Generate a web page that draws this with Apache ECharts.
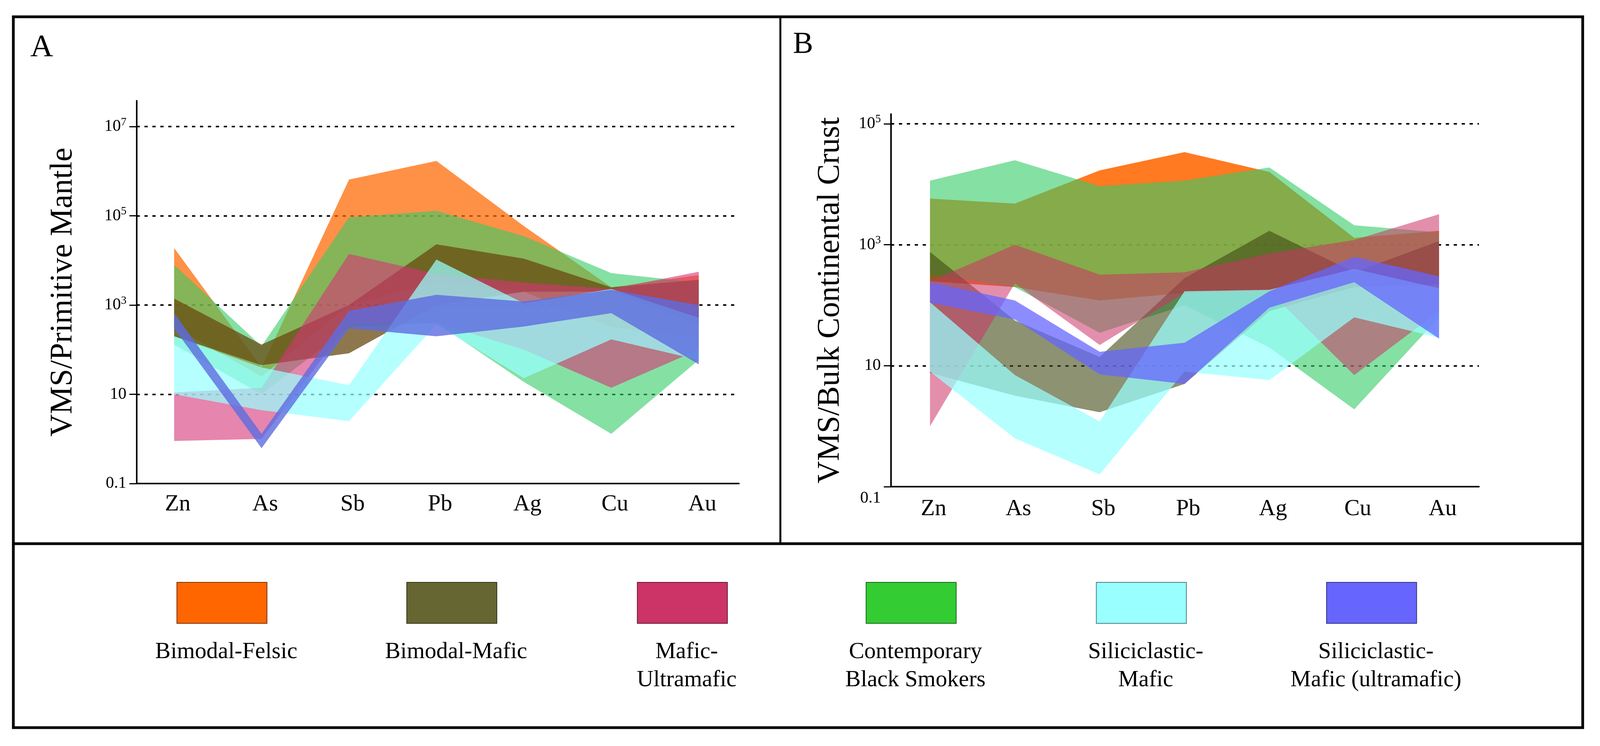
<!DOCTYPE html>
<html>
<head>
<meta charset="utf-8">
<script src="https://cdn.jsdelivr.net/npm/echarts@6/dist/echarts.min.js"></script>
<style>
  html, body { margin: 0; padding: 0; background: #fff; overflow: hidden; }
  #chart { width: 100vw; height: 100vh; }
</style>
</head>
<body>
<div id="chart"></div>
<script>
var elements = ['Zn', 'As', 'Sb', 'Pb', 'Ag', 'Cu', 'Au'];
var yTicksA = [0.1, 10, 1e3, 1e5, 1e7];
var yTicksB = [0.1, 10, 1e3, 1e5];
var gridA = [10, 1e3, 1e5, 1e7];
var gridB = [10, 1e3, 1e5];

var legendNames = ['Bimodal-Felsic', 'Bimodal-Mafic', 'Mafic-\nUltramafic',
  'Contemporary\nBlack Smokers', 'Siliciclastic-\nMafic', 'Siliciclastic-\nMafic (ultramafic)'];
var legendColors = ['#ff6600', '#666633', '#cc3366', '#33cc33', '#99ffff', '#6666ff'];
var legendEdges = ['#7a3300', '#333318', '#661a33', '#1a661a', '#4d8080', '#333380'];

// panel A: VMS / primitive mantle, upper and lower envelope per element
var felsicA_hi = [1.9e4, 40, 6.5e5, 1.7e6, 5.9e4, 2.5e3, 4.7e3];
var felsicA_lo = [320, 25, 1e3, 3.2e3, 2e3, 320, 190];
var smokerA_hi = [8e3, 120, 9.3e4, 1.3e5, 3.5e4, 5.2e3, 3.2e3];
var smokerA_lo = [130, 10, 320, 400, 19, 1.3, 59];
var mafBiA_hi = [1.4e3, 130, 1e3, 2.3e4, 1.1e4, 2.5e3, 3.7e3];
var mafBiA_lo = [200, 45, 83, 1e3, 2e3, 2e3, 370];
var mafUmA_hi = [11, 14, 1.4e4, 5e3, 3.2e3, 2.3e3, 5.6e3];
var mafUmA_lo = [0.9, 1.0, 400, 400, 100, 14, 100];
var silA_hi = [200, 40, 16, 1.05e4, 1.1e3, 2.3e3, 520];
var silA_lo = [10, 4.4, 2.5, 370, 23, 170, 59];
var silUmA_hi = [660, 1.3, 740, 1.7e3, 1.2e3, 2.2e3, 1e3];
var silUmA_lo = [300, 0.62, 300, 200, 330, 660, 47];

// panel B: VMS / bulk continental crust
var felsicB_hi = [5.8e3, 4.8e3, 1.7e4, 3.4e4, 1.6e4, 1.3e3, 1.7e3];
var felsicB_lo = [250, 200, 120, 160, 175, 250, 200];
var smokerB_hi = [1.15e4, 2.5e4, 9.3e3, 1.15e4, 1.9e4, 2.1e3, 1.6e3];
var smokerB_lo = [320, 200, 35, 100, 20, 1.9, 63];
var mafBiB_hi = [760, 56, 14, 280, 1.7e3, 350, 1.15e3];
var mafBiB_lo = [7.6, 3.2, 1.7, 5, 80, 200, 220];
var mafUmB_hi = [250, 1e3, 320, 350, 720, 1.2e3, 3.2e3];
var mafUmB_lo = [1, 230, 22, 160, 170, 7, 80];
var silB_hi = [112, 7, 1.2, 170, 180, 400, 190];
var silB_lo = [8, 0.63, 0.16, 8, 5.8, 63, 29];
var silUmB_hi = [240, 120, 17, 24, 170, 630, 300];
var silUmB_lo = [110, 58, 7.2, 5, 91, 240, 28];

var serif = 'Liberation Serif';

// layout is measured on a 4441 x 1910 page, scaled to the real window
var W = window.innerWidth || 4441, H = window.innerHeight || 1910;
var sx = W / 4441, sy = H / 1910;
function X(v) { return v * sx; }
function Y(v) { return v * sy; }

function band(name, hi, lo, color, opacity, idx) {
  return {
    type: 'custom',
    name: name,
    xAxisIndex: idx,
    yAxisIndex: idx,
    z: 2,
    silent: true,
    data: [[0, hi[0]]],
    renderItem: function (params, api) {
      var pts = [];
      for (var i = 0; i < hi.length; i++) pts.push(api.coord([i, hi[i]]));
      for (var j = lo.length - 1; j >= 0; j--) pts.push(api.coord([j, lo[j]]));
      return {
        type: 'polygon',
        shape: { points: pts },
        style: { fill: color, opacity: opacity }
      };
    }
  };
}

function gridLines(idx, values) {
  return {
    type: 'custom',
    xAxisIndex: idx,
    yAxisIndex: idx,
    z: 1,
    silent: true,
    data: [],
    renderItem: function () { return null; },
    markLine: {
      silent: true,
      z: 1,
      symbol: 'none',
      animation: false,
      label: { show: false },
      lineStyle: { color: '#000', width: 4, type: [X(9), X(13)] },
      data: values.map(function (v) { return { yAxis: v }; })
    }
  };
}

function yLabel(v) {
  var e = Math.round(Math.log10(v));
  if (e === -1) return '{low|0.1}';
  if (e === 1) return '{b|10}';
  return '{b|10}{s|' + e + '}';
}

function xAxis(idx, min, max, margin) {
  return {
    type: 'value', gridIndex: idx, min: min, max: max,
    axisLine: { show: true, onZero: false, lineStyle: { color: '#000', width: 4 } },
    axisTick: { show: false },
    splitLine: { show: false },
    axisLabel: {
      customValues: [0, 1, 2, 3, 4, 5, 6],
      margin: Y(margin),
      padding: [0, 0, 0, X(20)],
      fontFamily: serif, fontSize: X(64), color: '#000',
      formatter: function (v) { return elements[Math.round(v)] || ''; }
    }
  };
}

function yAxis(idx, max, ticks, name, gap, lowPad) {
  return {
    type: 'log', logBase: 10, gridIndex: idx, min: 0.1, max: max,
    name: name, nameLocation: 'middle', nameGap: X(gap),
    nameTextStyle: { fontFamily: serif, fontSize: Y(80), color: '#000' },
    axisLine: { show: true, onZero: false, lineStyle: { color: '#000', width: 4 } },
    axisTick: { show: true, customValues: ticks, length: X(20), lineStyle: { color: '#000', width: 3 } },
    splitLine: { show: false },
    axisLabel: {
      customValues: ticks,
      margin: X(28),
      formatter: yLabel,
      color: '#000',
      rich: {
        b: { fontFamily: serif, fontSize: X(46), color: '#000' },
        s: { fontFamily: serif, fontSize: X(31), color: '#000', verticalAlign: 'top', padding: [0, 0, Y(22), 0] },
        low: { fontFamily: serif, fontSize: X(46), color: '#000', padding: [Y(lowPad), 0, 0, 0] }
      }
    }
  };
}

var graphics = [
  { type: 'rect', shape: { x: X(37), y: Y(43), width: X(4356), height: Y(1820) }, style: { fill: 'none', stroke: '#000', lineWidth: 7 }, z: 100 },
  { type: 'line', shape: { x1: X(2166), y1: Y(43), x2: X(2166), y2: Y(1392) }, style: { stroke: '#000', lineWidth: 5 }, z: 100 },
  { type: 'line', shape: { x1: X(37), y1: Y(1392), x2: X(4393), y2: Y(1392) }, style: { stroke: '#000', lineWidth: 7 }, z: 100 },
  { type: 'text', style: { x: X(84), y: Y(123), text: 'A', font: X(88) + 'px "Liberation Serif"', fill: '#000', verticalAlign: 'middle' } },
  { type: 'text', style: { x: X(2201), y: Y(115), text: 'B', font: X(84) + 'px "Liberation Serif"', fill: '#000', verticalAlign: 'middle' } }
];
var swatchX = [616, 1254, 1894, 2529, 3168, 3807];
legendNames.forEach(function (n, i) {
  graphics.push({
    type: 'rect',
    shape: { x: X(swatchX[i] - 125), y: Y(1491), width: X(250), height: Y(105) },
    style: { fill: legendColors[i], stroke: legendEdges[i], lineWidth: 2 }
  });
  graphics.push({
    type: 'text',
    style: {
      x: X(swatchX[i] + 12), y: Y(1633), text: n, align: 'center', verticalAlign: 'top',
      font: X(64) + 'px "Liberation Serif"', lineHeight: Y(72), fill: '#000'
    }
  });
});

var option = {
  backgroundColor: '#fff',
  animation: false,
  grid: [
    { left: X(379), right: W - X(2051), top: Y(258), bottom: H - Y(1238) },
    { left: X(2473), right: W - X(4105), top: Y(292), bottom: H - Y(1246) }
  ],
  xAxis: [xAxis(0, -0.43, 6.46, 24), xAxis(1, -0.46, 6.47, 28)],
  yAxis: [
    yAxis(0, 3.8e7, yTicksA, 'VMS/Primitive Mantle', 160, 0),
    yAxis(1, 1.45e5, yTicksB, 'VMS/Bulk Continental Crust', 125, 60)
  ],
  graphic: graphics,
  series: [
    gridLines(0, gridA),
    band('Bimodal-Felsic', felsicA_hi, felsicA_lo, '#ff6600', 0.72, 0),
    band('Contemporary Black Smokers', smokerA_hi, smokerA_lo, '#33cc66', 0.6, 0),
    band('Bimodal-Mafic', mafBiA_hi, mafBiA_lo, '#6a4a12', 0.75, 0),
    band('Mafic-Ultramafic', mafUmA_hi, mafUmA_lo, '#d63377', 0.6, 0),
    band('Siliciclastic-Mafic', silA_hi, silA_lo, '#99ffff', 0.72, 0),
    band('Siliciclastic-Mafic (ultramafic)', silUmA_hi, silUmA_lo, '#5c6ce0', 0.8, 0),

    gridLines(1, gridB),
    band('Bimodal-Felsic', felsicB_hi, felsicB_lo, '#ff6600', 0.87, 1),
    band('Contemporary Black Smokers', smokerB_hi, smokerB_lo, '#33cc66', 0.6, 1),
    band('Bimodal-Mafic', mafBiB_hi, mafBiB_lo, '#404a14', 0.6, 1),
    band('Mafic-Ultramafic', mafUmB_hi, mafUmB_lo, '#cc3366', 0.55, 1),
    band('Siliciclastic-Mafic', silB_hi, silB_lo, '#99ffff', 0.72, 1),
    band('Siliciclastic-Mafic (ultramafic)', silUmB_hi, silUmB_lo, '#6666ff', 0.75, 1)
  ]
};

var chart = echarts.init(document.getElementById('chart'));
chart.setOption(option);
</script>
</body>
</html>
